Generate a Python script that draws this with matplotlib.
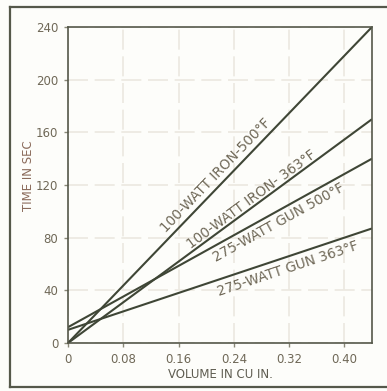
import matplotlib
matplotlib.use("Agg")
import matplotlib.pyplot as plt
from matplotlib.lines import Line2D
import numpy as np

# Endpoints of each straight-line curve (volume in cu in., time in sec)
volume = [0.0, 0.44]
iron_500 = [0, 240]
iron_363 = [0, 170]
gun_500 = [12, 140]
gun_363 = [10, 87]

series = [
    ("100-WATT IRON-500°F", iron_500, 0.214, 10, "bottom"),
    ("100-WATT IRON- 363°F", iron_363, 0.265, 6, "bottom"),
    ("275-WATT GUN 500°F", gun_500, 0.305, -9, "top"),
    ("275-WATT GUN 363°F", gun_363, 0.318, -9, "top"),
]

x_ticks = [0, 0.08, 0.16, 0.24, 0.32, 0.40]
x_tick_labels = ["0", "0.08", "0.16", "0.24", "0.32", "0.40"]
y_ticks = [0, 40, 80, 120, 160, 200, 240]
y_tick_labels = ["0", "40", "80", "120", "160", "200", "240"]

line_color = "#3f4636"
text_color = "#6f6857"
grid_color = "#ebe8e0"

fig = plt.figure(figsize=(3.87, 3.91), dpi=100)
fig.patch.set_facecolor("#fdfdfa")

# Outer frame around the figure
frame_kw = dict(color="#55584a", lw=1.6, transform=fig.transFigure)
fig.add_artist(Line2D([10/387, 10/387], [1 - 387/391, 1 - 7/391], **frame_kw))
fig.add_artist(Line2D([10/387, 1.0], [1 - 7/391, 1 - 7/391], **frame_kw))
fig.add_artist(Line2D([10/387, 1.0], [1 - 387/391, 1 - 387/391], **frame_kw))

ax = fig.add_axes([68/387, 1 - 343/391, (372 - 68)/387, (343 - 27)/391])
ax.set_facecolor("#fdfdfa")
ax.set_xlim(0, 0.44)
ax.set_ylim(0, 240)

ax.set_xticks(x_ticks)
ax.set_xticklabels(x_tick_labels)
ax.set_yticks(y_ticks)
ax.set_yticklabels(y_tick_labels)
ax.tick_params(axis="both", length=3, width=1, color="#8a8878",
               labelsize=8.5, labelcolor=text_color, pad=4)
ax.grid(True, color=grid_color, lw=1.2, ls=(0, (12, 4)))
for s in ax.spines.values():
    s.set_color("#55584a")
    s.set_linewidth(1.2)

ax.set_xlabel("VOLUME IN CU IN.", fontsize=8.5, color="#5e5c50", labelpad=2)
ax.set_ylabel("TIME IN SEC", fontsize=8.5, color="#8a6a5a", labelpad=6)
ax.yaxis.set_label_coords(-0.11, 0.53)

for label, vals, xpos, offset, va in series:
    ax.plot(volume, vals, color=line_color, lw=1.5, solid_capstyle="butt")
    # Rotate the label to follow the line in screen space
    p0 = ax.transData.transform((volume[0], vals[0]))
    p1 = ax.transData.transform((volume[1], vals[1]))
    angle = np.degrees(np.arctan2(p1[1] - p0[1], p1[0] - p0[0]))
    ypos = np.interp(xpos, volume, vals)
    ax.annotate(label, xy=(xpos, ypos), xytext=(0, offset),
                textcoords="offset points", rotation=angle,
                rotation_mode="anchor", ha="center", va="center",
                fontsize=9.8, color=text_color)

fig.savefig("out.png", dpi=100, facecolor=fig.get_facecolor())
